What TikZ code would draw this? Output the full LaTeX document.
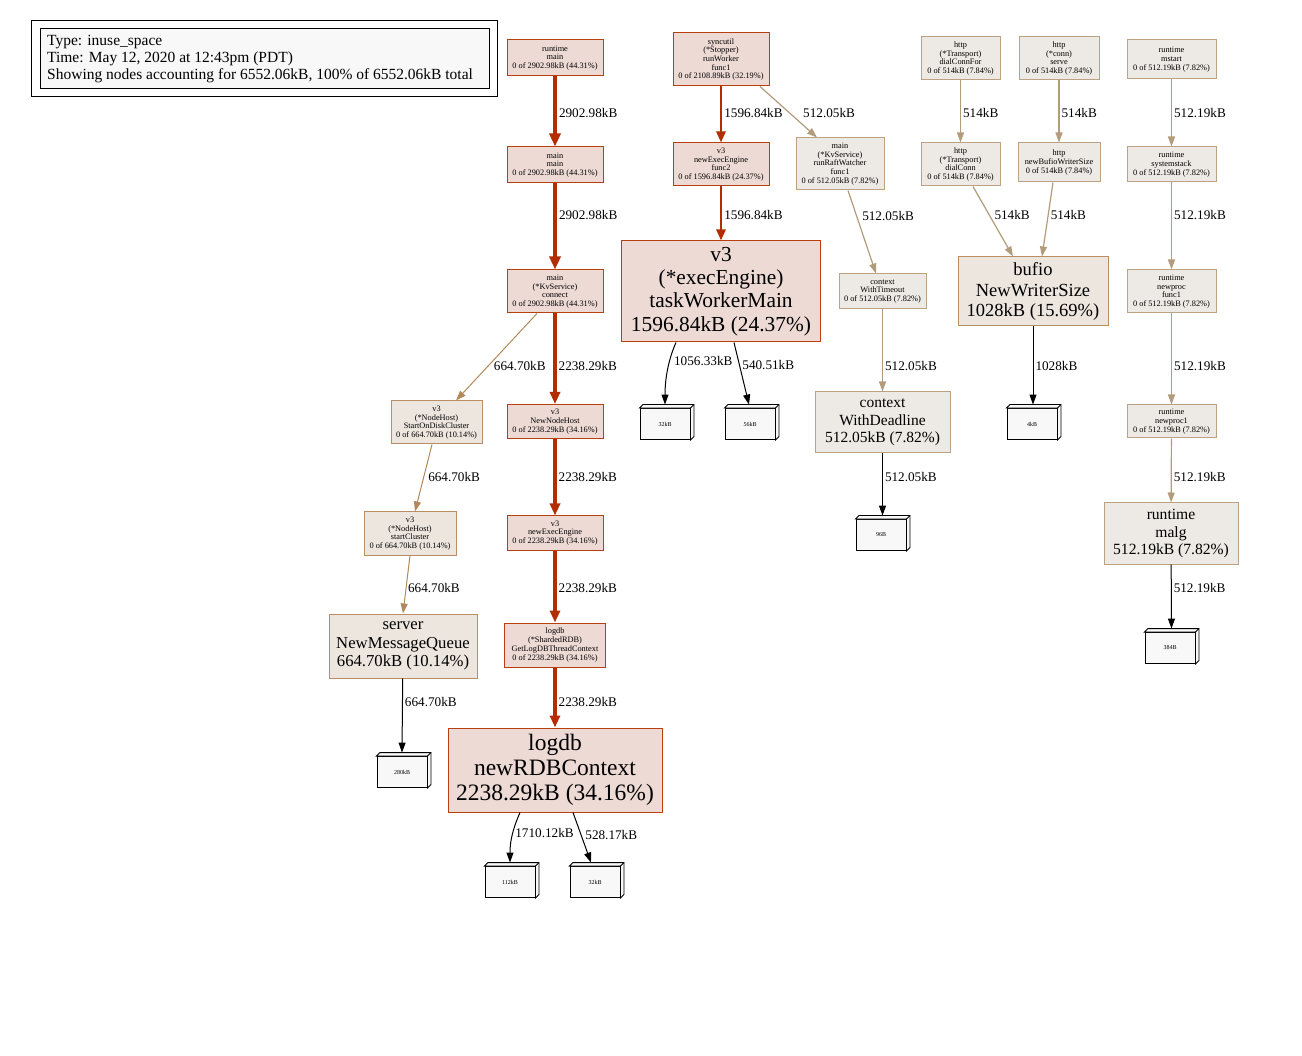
\documentclass[tikz,border=0pt]{standalone}
\usepackage{fontspec}
\setmainfont{Liberation Serif}
\usetikzlibrary{arrows.meta,calc}
\definecolor{hotE}{HTML}{B22E00}
\definecolor{hotB}{HTML}{B8400E}
\definecolor{hotF}{HTML}{EDDAD5}
\definecolor{warmE}{HTML}{B28A5A}
\definecolor{warmB}{HTML}{B88E62}
\definecolor{warmF}{HTML}{EDE6DF}
\definecolor{coolE}{HTML}{B29C7C}
\definecolor{coolB}{HTML}{BBA282}
\definecolor{coolF}{HTML}{EDE9E4}
\definecolor{leafF}{HTML}{F8F8F8}
\tikzset{
  fn/.style={rectangle, draw, line width=1pt, align=center, inner xsep=2pt, inner ysep=0pt},
  sm/.style={fn, font=\fontsize{8.3}{8.7}\selectfont},
  hotn/.style={draw=hotB, fill=hotF},
  warmn/.style={draw=warmB, fill=warmF},
  cooln/.style={draw=coolB, fill=coolF},
  leaf/.style={rectangle, draw, line width=0.9pt, fill=leafF, minimum width=50pt, minimum height=31pt, inner sep=0pt, font=\fontsize{6}{7}\selectfont},
  leafline/.style={draw, line width=0.9pt, fill=leafF},
  lbl/.style={font=\fontsize{13.2}{15}\selectfont, anchor=west, inner sep=0pt, text=black},
  hotA/.style={draw=hotE, line width=4pt, -{Triangle[length=13pt,width=11pt]}},
  hotB2/.style={draw=hotE, line width=3.3pt, -{Triangle[length=12pt,width=10pt]}},
  hotC/.style={draw=hotE, line width=2.6pt, -{Triangle[length=11pt,width=9pt]}},
  warmA/.style={draw=warmE, line width=1pt, -{Triangle[length=10pt,width=7pt]}},
  coolA/.style={draw=coolE, line width=1.2pt, -{Triangle[length=10pt,width=7pt]}},
  blk/.style={draw=black, line width=1pt, -{Triangle[length=10pt,width=7pt]}},
}
\newcommand\leafbox[3]{%
  \node[leaf] (#1) at (#2) {#3};
  \filldraw[leafline] (#1.north west) -- ++(3.5,-3.5) -- ([shift={(3.5,-3.5)}]#1.north east)
     -- ([shift={(3.5,-3.5)}]#1.south east) -- (#1.south east) -- (#1.north east) -- cycle;
  \draw[line width=0.9pt] (#1.north east) -- ++(3.5,-3.5);
}
\begin{document}
\begin{tikzpicture}[x=1pt,y=-1pt]
\path[fill=white] (0,0) rectangle (1302,1056);
\useasboundingbox (0,0) rectangle (1302,1056);

% legend
\node[draw, fill=white, line width=0.8pt, minimum width=466pt, minimum height=76pt, inner sep=0pt] (legend) at (264,58) {};
\node[draw, fill=leafF, line width=0.8pt, minimum width=449pt, minimum height=60pt, inner sep=0pt] (legendbox) at (264.5,58) {};
\node[anchor=west, inner sep=0pt, align=left, font=\fontsize{15.5}{17}\selectfont] (legendtext) at (47,59.5) {Type: inuse\_space\\Time: May 12, 2020 at 12:43pm (PDT)\\Showing nodes accounting for 6552.06kB, 100\% of 6552.06kB total};

% column 1 (hot)
\node[sm,hotn,minimum width=96pt,minimum height=36pt] (rm) at (555,58) {runtime\\main\\0 of 2902.98kB (44.31\%)};
\node[sm,hotn,minimum width=96pt,minimum height=36pt] (mm) at (555,165) {main\\main\\0 of 2902.98kB (44.31\%)};
\node[sm,hotn,minimum width=96pt,minimum height=43pt] (conn) at (555,291.5) {main\\(*KvService)\\connect\\0 of 2902.98kB (44.31\%)};
\node[sm,hotn,minimum width=96pt,minimum height=34pt] (nnh) at (555,421.5) {v3\\NewNodeHost\\0 of 2238.29kB (34.16\%)};
\node[sm,hotn,minimum width=96pt,minimum height=34pt] (nee) at (555,533) {v3\\newExecEngine\\0 of 2238.29kB (34.16\%)};
\node[sm,hotn,minimum width=101pt,minimum height=44pt] (gldb) at (555,645) {logdb\\(*ShardedRDB)\\GetLogDBThreadContext\\0 of 2238.29kB (34.16\%)};
\node[fn,hotn,font=\fontsize{23.5}{25}\selectfont,minimum width=214pt,minimum height=84pt] (nrdb) at (555,770) {logdb\\newRDBContext\\2238.29kB (34.16\%)};
\leafbox{l112}{510,882}{112kB}
\leafbox{l32b}{595,882}{32kB}

% left branch (warm)
\node[sm,warmn,minimum width=91pt,minimum height=43pt] (sodc) at (436.5,422.5) {v3\\(*NodeHost)\\StartOnDiskCluster\\0 of 664.70kB (10.14\%)};
\node[sm,warmn,minimum width=92pt,minimum height=43pt] (sc) at (410,533.5) {v3\\(*NodeHost)\\startCluster\\0 of 664.70kB (10.14\%)};
\node[fn,warmn,font=\fontsize{16.7}{18.5}\selectfont,minimum width=148pt,minimum height=64pt] (nmq) at (403,646) {server\\NewMessageQueue\\664.70kB (10.14\%)};
\leafbox{l280}{402,772}{280kB}

% syncutil column
\node[sm,hotn,minimum width=96pt,minimum height=53pt] (syn) at (721,59.5) {syncutil\\(*Stopper)\\runWorker\\func1\\0 of 2108.89kB (32.19\%)};
\node[sm,hotn,minimum width=96pt,minimum height=43pt] (f2) at (721,164.5) {v3\\newExecEngine\\func2\\0 of 1596.84kB (24.37\%)};
\node[fn,hotn,font=\fontsize{21.4}{23.3}\selectfont,minimum width=199pt,minimum height=101pt] (twm) at (721,291.5) {v3\\(*execEngine)\\taskWorkerMain\\1596.84kB (24.37\%)};
\leafbox{l32a}{665,424}{32kB}
\leafbox{l56}{750,424}{56kB}

% raft watcher column
\node[sm,cooln,minimum width=88pt,minimum height=52pt] (rrw) at (840,164) {main\\(*KvService)\\runRaftWatcher\\func1\\0 of 512.05kB (7.82\%)};
\node[sm,cooln,minimum width=87pt,minimum height=35pt] (wt) at (882.5,291.5) {context\\WithTimeout\\0 of 512.05kB (7.82\%)};
\node[fn,cooln,font=\fontsize{15.5}{17.5}\selectfont,minimum width=135pt,minimum height=61pt] (wd) at (882.5,422.5) {context\\WithDeadline\\512.05kB (7.82\%)};
\leafbox{l96}{881,535}{96B}

% http columns
\node[sm,cooln,minimum width=79pt,minimum height=43pt] (dcf) at (960.5,58.5) {http\\(*Transport)\\dialConnFor\\0 of 514kB (7.84\%)};
\node[sm,cooln,minimum width=80pt,minimum height=43pt] (srv) at (1059,58.5) {http\\(*conn)\\serve\\0 of 514kB (7.84\%)};
\node[sm,cooln,minimum width=79pt,minimum height=43pt] (dc) at (960.5,164.5) {http\\(*Transport)\\dialConn\\0 of 514kB (7.84\%)};
\node[sm,cooln,minimum width=82pt,minimum height=39pt] (nbws) at (1059,162.5) {http\\newBufioWriterSize\\0 of 514kB (7.84\%)};
\node[fn,warmn,font=\fontsize{18.5}{20.5}\selectfont,minimum width=150pt,minimum height=69pt] (bufio) at (1033,291.5) {bufio\\NewWriterSize\\1028kB (15.69\%)};
\leafbox{l4}{1032,424}{4kB}

% runtime column
\node[sm,cooln,minimum width=89pt,minimum height=39pt] (ms) at (1171.5,59.5) {runtime\\mstart\\0 of 512.19kB (7.82\%)};
\node[sm,cooln,minimum width=89pt,minimum height=35pt] (ss) at (1171.5,164.5) {runtime\\systemstack\\0 of 512.19kB (7.82\%)};
\node[sm,cooln,minimum width=89pt,minimum height=43pt] (npf) at (1171.5,291.5) {runtime\\newproc\\func1\\0 of 512.19kB (7.82\%)};
\node[sm,cooln,minimum width=89pt,minimum height=33pt] (np1) at (1171.5,421.5) {runtime\\newproc1\\0 of 512.19kB (7.82\%)};
\node[fn,cooln,font=\fontsize{15.6}{17.5}\selectfont,minimum width=134pt,minimum height=61pt] (malg) at (1171,533.5) {runtime\\malg\\512.19kB (7.82\%)};
\leafbox{l384}{1170,648}{384B}

% edges: main column
\draw[hotA] (rm) -- node[lbl,pos=.52,xshift=2pt]{2902.98kB} (mm);
\draw[hotA] (mm) -- node[lbl,pos=.37,xshift=2pt]{2902.98kB} (conn);
\draw[hotB2] (conn) -- node[lbl,pos=.58,xshift=2pt]{2238.29kB} (nnh);
\draw[hotB2] (nnh) -- node[lbl,pos=.5,xshift=2pt]{2238.29kB} (nee);
\draw[hotB2] (nee) -- node[lbl,pos=.52,xshift=2pt]{2238.29kB} (gldb);
\draw[hotB2] (gldb) -- node[lbl,pos=.57,xshift=2pt]{2238.29kB} (nrdb);
\draw[blk] ([xshift=-35pt]nrdb.south) .. controls +(-7,16) and +(0,-22) .. node[lbl,pos=.45,xshift=2pt]{1710.12kB} ([yshift=3.5pt]l112.north);
\draw[blk] ([xshift=18pt]nrdb.south) -- node[lbl,pos=.44,xshift=4pt]{528.17kB} ([xshift=-4pt,yshift=3.5pt]l32b.north);

% left branch
\draw[warmA] ([xshift=-18pt]conn.south) -- node[lbl,pos=.6,xshift=5pt]{664.70kB} ([xshift=19.5pt]sodc.north);
\draw[warmA] ([xshift=-4.5pt]sodc.south) -- node[lbl,pos=.485,xshift=4pt]{664.70kB} ([xshift=5pt]sc.north);
\draw[warmA] (sc.south) -- node[lbl,pos=.56,xshift=1.5pt]{664.70kB} (nmq.north);
\draw[blk] (nmq) -- node[lbl,pos=.32,xshift=2pt]{664.70kB} ([yshift=3.5pt]l280.north);

% syncutil column
\draw[hotC] (syn) -- node[lbl,pos=.47,xshift=2pt]{1596.84kB} (f2);
\draw[coolA] ([xshift=39pt]syn.south) -- node[lbl,pos=.52,xshift=13pt]{512.05kB} ([xshift=-23pt]rrw.north);
\draw[hotC] (f2) -- node[lbl,pos=.53,xshift=2pt]{1596.84kB} (twm);
\draw[blk] ([xshift=-45pt]twm.south) .. controls +(-8,18) and +(0,-25) .. node[lbl,pos=.33,xshift=4pt]{1056.33kB} ([yshift=3.5pt]l32a.north);
\draw[blk] ([xshift=13pt]twm.south) -- node[lbl,pos=.36,xshift=2.5pt]{540.51kB} ([xshift=-1pt,yshift=3.5pt]l56.north);

% raft watcher column
\draw[coolA] ([xshift=8pt]rrw.south) -- node[lbl,pos=.31,xshift=5pt]{512.05kB} ([xshift=-6.5pt]wt.north);
\draw[coolA] (wt) -- node[lbl,pos=.69,xshift=2pt]{512.05kB} (wd);
\draw[blk] (wd) -- node[lbl,pos=.38,xshift=2pt]{512.05kB} ([xshift=1.5pt,yshift=3.5pt]l96.north);

% http columns
\draw[coolA] (dcf) -- node[lbl,pos=.52,xshift=2pt]{514kB} (dc);
\draw[coolA] (srv) -- node[lbl,pos=.52,xshift=2pt]{514kB} (nbws);
\draw[coolA] ([xshift=12.5pt]dc.south) -- node[lbl,pos=.41,xshift=4.5pt]{514kB} ([xshift=-20pt]bufio.north);
\draw[coolA] ([xshift=-6pt]nbws.south) -- node[lbl,pos=.44,xshift=2pt]{514kB} ([xshift=9pt]bufio.north);
\draw[blk] (bufio) -- node[lbl,pos=.51,xshift=2pt]{1028kB} ([xshift=1pt,yshift=3.5pt]l4.north);

% runtime column
\draw[coolA] (ms) -- node[lbl,pos=.5,xshift=2pt]{512.19kB} (ss);
\draw[coolA] (ss) -- node[lbl,pos=.375,xshift=2pt]{512.19kB} (npf);
\draw[coolA] (npf) -- node[lbl,pos=.58,xshift=2pt]{512.19kB} (np1);
\draw[coolA] (np1) -- node[lbl,pos=.6,xshift=2pt]{512.19kB} (malg);
\draw[blk] (malg) -- node[lbl,pos=.36,xshift=2pt]{512.19kB} ([xshift=1.5pt,yshift=3.5pt]l384.north);
\end{tikzpicture}
\end{document}
